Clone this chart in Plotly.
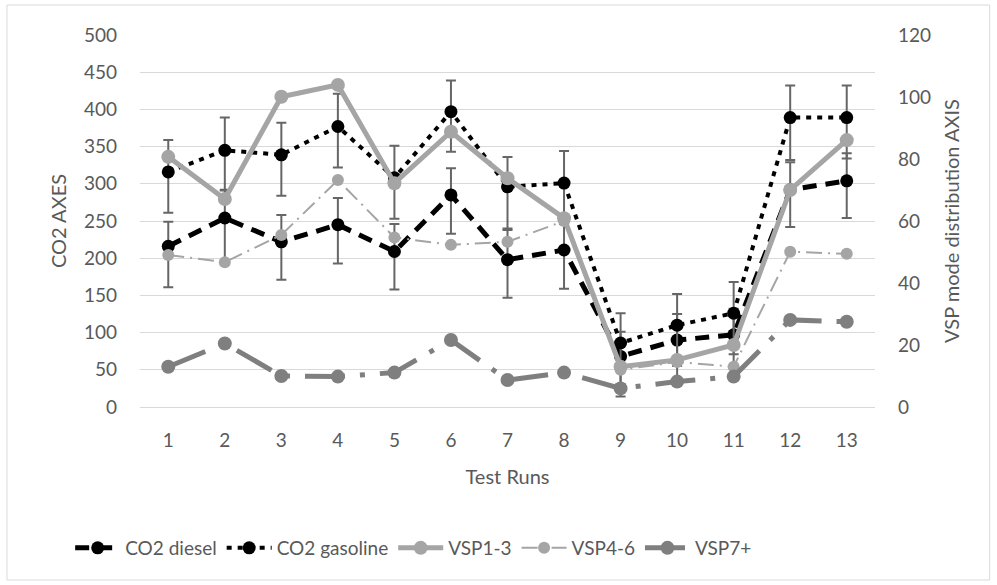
import plotly.graph_objects as go

# Test runs on the category axis
runs = [str(i) for i in range(1, 14)]

# CO2 emissions (left axis)
co2_diesel = [216, 254, 222, 245, 209, 285, 198, 211, 68, 90, 97, 292, 304]
co2_gasoline = [316, 345, 339, 377, 308, 397, 296, 301, 86, 110, 126, 389, 389]

# Error bar extents (above / below each point)
diesel_err_plus = [33, 38, 36, 36, 37, 36, 40, 35, 33, 35, 35, 37, 37]
diesel_err_minus = [55, 59, 51, 52, 51, 52, 51, 52, 54, 53, 53, 50, 50]
gasoline_err_plus = [43, 44, 43, 44, 43, 42, 40, 43, 40, 42, 42, 43, 43]
gasoline_err_minus = [55, 54, 55, 55, 55, 54, 56, 54, 55, 55, 55, 57, 55]

# VSP mode distribution (right axis)
vsp_1_3 = [80.7, 67.1, 100.1, 103.9, 72.2, 88.8, 73.8, 60.9, 13.0, 15.2, 20.0, 70.0, 86.1]
vsp_4_6 = [49.0, 46.7, 55.5, 73.2, 54.7, 52.3, 53.3, 60.0, 12.0, 14.5, 13.0, 50.1, 49.4]
vsp_7_plus = [13.0, 20.5, 10.0, 9.8, 11.1, 21.6, 8.7, 11.1, 6.0, 8.2, 9.8, 28.1, 27.5]

left_ticks = list(range(0, 501, 50))
right_ticks = list(range(0, 121, 20))

TEXT = "#595959"
GRID = "#D9D9D9"
LIGHT = "#A5A5A5"
DARK = "#7F7F7F"
ERR = "#666666"
FONT = "Lato"

fig = go.Figure()

fig.add_trace(go.Scatter(
    x=runs, y=co2_diesel, name="CO2 diesel", mode="lines+markers",
    line=dict(color="black", width=5, dash="14px,9px"),
    marker=dict(color="black", size=13, symbol="circle"),
    error_y=dict(type="data", array=diesel_err_plus, arrayminus=diesel_err_minus,
                 color=ERR, thickness=2, width=5),
))
fig.add_trace(go.Scatter(
    x=runs, y=co2_gasoline, name="CO2 gasoline", mode="lines+markers",
    line=dict(color="black", width=4, dash="5px,6px"),
    marker=dict(color="black", size=13, symbol="circle"),
    error_y=dict(type="data", array=gasoline_err_plus, arrayminus=gasoline_err_minus,
                 color=ERR, thickness=2, width=5),
))
fig.add_trace(go.Scatter(
    x=runs, y=vsp_1_3, name="VSP1-3", mode="lines+markers", yaxis="y2",
    line=dict(color=LIGHT, width=5),
    marker=dict(color=LIGHT, size=14, symbol="circle"),
))
fig.add_trace(go.Scatter(
    x=runs, y=vsp_4_6, name="VSP4-6", mode="lines+markers", yaxis="y2",
    line=dict(color=LIGHT, width=2, dash="16px,6px,2px,6px"),
    marker=dict(color=LIGHT, size=12, symbol="circle"),
))
fig.add_trace(go.Scatter(
    x=runs, y=vsp_7_plus, name="VSP7+", mode="lines+markers", yaxis="y2",
    line=dict(color=DARK, width=5, dash="40px,15px,5px,15px"),
    marker=dict(color=DARK, size=14, symbol="circle"),
))

fig.update_layout(
    width=997, height=585,
    margin=dict(l=140, r=122, t=35, b=178),
    paper_bgcolor="white", plot_bgcolor="white",
    font=dict(family=FONT, size=19, color=TEXT),
    showlegend=True,
    legend=dict(orientation="h", x=-0.095, xanchor="left", y=-0.379, yanchor="middle",
                font=dict(family=FONT, size=19, color=TEXT), itemwidth=45,
                bgcolor="rgba(0,0,0,0)"),
    xaxis=dict(
        type="category", range=[-0.5, 12.5], showgrid=False,
        showline=True, linecolor=GRID, linewidth=1, ticks="", ticklabelstandoff=16,
        tickfont=dict(size=19, color=TEXT),
        title=dict(text="Test Runs", font=dict(size=20, color=TEXT), standoff=20),
    ),
    yaxis=dict(
        range=[0, 500], tickvals=left_ticks, showgrid=True, gridcolor=GRID, gridwidth=1,
        zeroline=False, showline=False, ticks="", ticklabelstandoff=22,
        tickfont=dict(size=19, color=TEXT),
        title=dict(text="CO2 AXES", font=dict(size=20, color=TEXT), standoff=11),
    ),
    yaxis2=dict(
        range=[0, 120], tickvals=right_ticks, overlaying="y", side="right",
        showgrid=False, zeroline=False, showline=False, ticks="", ticklabelstandoff=22,
        tickfont=dict(size=19, color=TEXT),
        title=dict(text="VSP mode distribution AXIS", font=dict(size=20, color=TEXT), standoff=14),
    ),
    shapes=[dict(type="rect", xref="paper", yref="paper",
                 x0=-0.181, x1=1.156, y0=-0.465, y1=1.0806,
                 line=dict(color=GRID, width=1), fillcolor="rgba(0,0,0,0)", layer="below")],
)

fig.write_html("out.html")
